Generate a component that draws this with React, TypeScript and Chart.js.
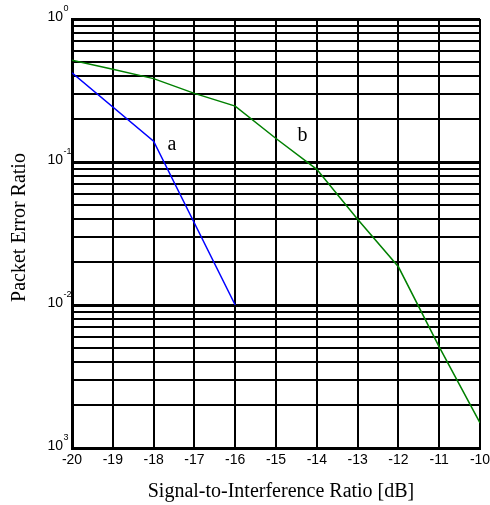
import React, { useEffect, useRef } from "react";
import { Chart, registerables } from "chart.js";

Chart.register(...registerables);

// ---- data ----
const xTickValues = [-20, -19, -18, -17, -16, -15, -14, -13, -12, -11, -10];
const curveAX = [-20, -18, -16];
const curveAY = [0.42, 0.14, 0.01];
const curveBX = [-20, -19, -18, -17, -16, -15, -14, -13, -12, -11, -10];
const curveBY = [0.514, 0.445, 0.383, 0.302, 0.246, 0.146, 0.0889, 0.0398, 0.0185, 0.0051, 0.0015];
const yDecades = [1, 0.1, 0.01, 0.001];
const yExponents = ["0", "-1", "-2", "3"];
const curveNames = ["a", "b"];
const curveNameX = [-17.55, -14.35];
const curveNameY = [0.133, 0.152];
const xTitle = "Signal-to-Interference Ratio [dB]";
const yTitle = "Packet Error Ratio";

const SANS = "'Liberation Sans', Arial, sans-serif";
const SERIF = "'Liberation Serif', 'Times New Roman', serif";

// grid positions for log axis: 1..9 x each decade
const yGridValues: { value: number; major: boolean }[] = [];
[0.001, 0.01, 0.1].forEach((d) => {
  for (let k = 1; k <= 9; k++) yGridValues.push({ value: d * k, major: k === 1 });
});
yGridValues.push({ value: 1, major: true });

const labelsPlugin = {
  id: "customLabels",
  afterDraw(chart: any) {
    const ctx = chart.ctx;
    const xs = chart.scales.x;
    const ys = chart.scales.y;
    const area = chart.chartArea;
    ctx.save();
    ctx.fillStyle = "#000";
    // y tick labels 10^n
    yDecades.forEach((v, i) => {
      const py = ys.getPixelForValue(v);
      const xr = area.left - 9;
      ctx.font = "14px " + SANS;
      ctx.textAlign = "right";
      ctx.textBaseline = "alphabetic";
      ctx.fillText("10", xr, py + 2);
      ctx.font = "9px " + SANS;
      ctx.textAlign = "left";
      ctx.fillText(yExponents[i], xr + 0.5, py - 8);
    });
    // curve names
    ctx.font = "20px " + SERIF;
    ctx.textAlign = "center";
    ctx.textBaseline = "middle";
    curveNames.forEach((n, i) => {
      ctx.fillText(n, xs.getPixelForValue(curveNameX[i]), ys.getPixelForValue(curveNameY[i]));
    });
    // axis titles
    ctx.font = "20px " + SERIF;
    ctx.textAlign = "center";
    ctx.textBaseline = "middle";
    ctx.fillText(xTitle, (area.left + area.right) / 2 + 5, area.bottom + 44);
    ctx.translate(20, (area.top + area.bottom) / 2 - 6);
    ctx.rotate(-Math.PI / 2);
    ctx.fillText(yTitle, 0, 0);
    ctx.restore();
  },
};

export default function App() {
  const ref = useRef<HTMLCanvasElement>(null);
  useEffect(() => {
    if (!ref.current) return;
    const chart = new Chart(ref.current, {
      type: "line",
      data: {
        datasets: [
          {
            data: curveAX.map((x, i) => ({ x, y: curveAY[i] })),
            borderColor: "#0000ff",
            borderWidth: 1.5,
            pointRadius: 0,
            tension: 0,
          },
          {
            data: curveBX.map((x, i) => ({ x, y: curveBY[i] })),
            borderColor: "#008000",
            borderWidth: 1.5,
            pointRadius: 0,
            tension: 0,
          },
        ],
      },
      options: {
        animation: false,
        responsive: false,
        layout: { padding: { left: 0, top: 19, right: 10, bottom: 0 } },
        plugins: { legend: { display: false }, tooltip: { enabled: false } },
        scales: {
          x: {
            type: "linear",
            min: -20,
            max: -10,
            afterBuildTicks: (s: any) => {
              s.ticks = xTickValues.map((v) => ({ value: v }));
            },
            afterFit: (s: any) => {
              s.height = 57;
              s.paddingLeft = 0;
              s.paddingRight = 0;
            },
            ticks: {
              autoSkip: false,
              maxRotation: 0,
              padding: 4,
              color: "#000",
              font: { family: SANS, size: 14 },
              callback: (v: any) => String(v),
            },
            grid: { color: "#000", lineWidth: 2, drawTicks: false },
            border: { display: true, color: "#000", width: 3 },
          },
          y: {
            type: "logarithmic",
            min: 0.001,
            max: 1,
            afterBuildTicks: (s: any) => {
              s.ticks = yGridValues.map((t) => ({ value: t.value, major: t.major }));
            },
            afterFit: (s: any) => {
              s.width = 72;
              s.paddingTop = 0;
              s.paddingBottom = 0;
            },
            ticks: {
              autoSkip: false,
              callback: () => "",
            },
            grid: {
              color: "#000",
              lineWidth: (c: any) => (c.tick && c.tick.major ? 3 : 2),
              drawTicks: false,
            },
            border: { display: true, color: "#000", width: 3 },
          },
        },
      },
      plugins: [labelsPlugin],
    } as any);
    return () => chart.destroy();
  }, []);
  return (
    <div style={{ position: "absolute", left: 0, top: 0, width: 490, height: 505, background: "#fff" }}>
      <canvas ref={ref} width={490} height={505} />
    </div>
  );
}
